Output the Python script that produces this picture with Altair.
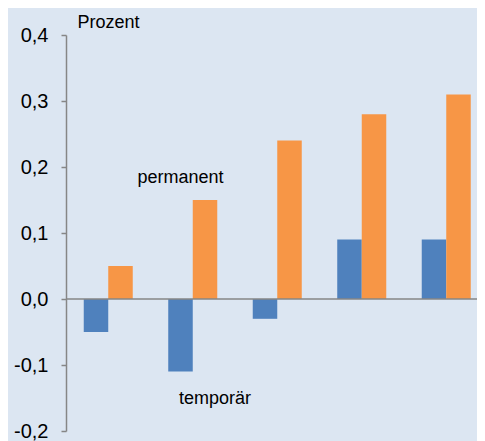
import altair as alt
import pandas as pd

groups = ["1", "2", "3", "4", "5"]
temporaer = [-0.05, -0.11, -0.03, 0.09, 0.09]
permanent = [0.05, 0.15, 0.24, 0.28, 0.31]
series_names = ["temporär", "permanent"]
series_colors = ["#4f81bd", "#f79646"]
y_ticks = [-0.2, -0.1, 0.0, 0.1, 0.2, 0.3, 0.4]

rows = []
for g, t, p in zip(groups, temporaer, permanent):
    rows.append({"group": g, "series": series_names[0], "value": t})
    rows.append({"group": g, "series": series_names[1], "value": p})
df = pd.DataFrame(rows)

W, H = 411, 396

bars = alt.Chart(df).mark_bar().encode(
    x=alt.X("group:N", axis=None, sort=groups,
            scale=alt.Scale(paddingInner=0.42, paddingOuter=0.21, range=[0, 422.5])),
    xOffset=alt.XOffset("series:N", sort=series_names,
                        scale=alt.Scale(paddingInner=0, paddingOuter=0)),
    y=alt.Y("value:Q",
            scale=alt.Scale(domain=[-0.2, 0.4], nice=False, zero=False),
            axis=alt.Axis(values=y_ticks, grid=False,
                          labelExpr="replace(replace(format(datum.value, '.1f'), '.', ','), '\u2212', '-')",
                          labelFontSize=20, labelColor="#000000", labelFont="Liberation Sans",
                          labelPadding=13, tickSize=5, tickColor="#868686", tickWidth=1.5,
                          domainColor="#868686", domainWidth=1.5,
                          title="Prozent", titleAngle=0, titleAlign="left",
                          titleBaseline="alphabetic", titleX=11, titleY=-8,
                          titleFontSize=18, titleFontWeight="normal",
                          titleFont="Liberation Sans", titleColor="#000000")),
    color=alt.Color("series:N", sort=series_names,
                    scale=alt.Scale(domain=series_names, range=series_colors),
                    legend=None),
)

zero = alt.Chart(pd.DataFrame({"y": [0.0]})).mark_rule(color="#868686", strokeWidth=1.5).encode(
    y=alt.Y("y:Q"),
    x=alt.value(0),
    x2=alt.value(W),
)

ann_text = ["permanent", "temporär"]
ann_y = [0.176, -0.159]

ann1 = alt.Chart(pd.DataFrame({"label": [ann_text[0]], "v": [ann_y[0]]})).mark_text(
    fontSize=18, font="Liberation Sans", color="#000000",
    baseline="alphabetic", align="center").encode(
    text="label:N", x=alt.value(114.5), y=alt.Y("v:Q"))
ann2 = alt.Chart(pd.DataFrame({"label": [ann_text[1]], "v": [ann_y[1]]})).mark_text(
    fontSize=18, font="Liberation Sans", color="#000000",
    baseline="alphabetic", align="center").encode(
    text="label:N", x=alt.value(149), y=alt.Y("v:Q"))

chart = alt.layer(bars, zero, ann1, ann2).properties(
    width=W, height=H,
    background="#dce6f2",
    padding={"left": 58, "top": 27, "right": 0, "bottom": 10},
    autosize=alt.AutoSizeParams(type="none"),
).configure_view(stroke=None)

chart.save("out.html", embed_options={"renderer": "svg", "actions": False})
